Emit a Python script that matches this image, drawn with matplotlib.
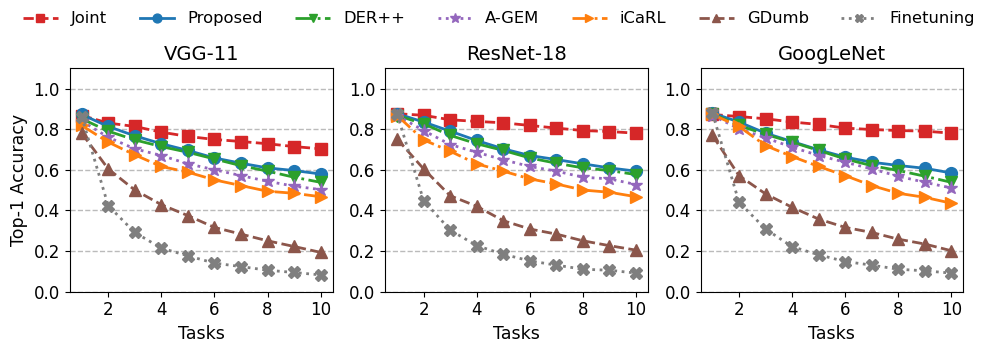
import numpy as np
import matplotlib

matplotlib.use("Agg")
import matplotlib.pyplot as plt

# ── Data ──────────────────────────────────────────────────────────────────────

TASKS = list(range(1, 11))
MODELS = ["VGG-11", "ResNet-18", "GoogLeNet"]
METHODS = ["Joint", "Proposed", "DER++", "A-GEM", "iCaRL", "GDumb", "Finetuning"]

vgg_joint = [0.867, 0.830, 0.813, 0.785, 0.764, 0.749, 0.739, 0.728, 0.714, 0.703]
vgg_proposed = [0.872, 0.813, 0.767, 0.728, 0.695, 0.658, 0.632, 0.609, 0.596, 0.579]
vgg_derpp = [0.851, 0.790, 0.747, 0.714, 0.686, 0.653, 0.620, 0.593, 0.563, 0.538]
vgg_agem = [0.840, 0.760, 0.703, 0.670, 0.629, 0.600, 0.571, 0.543, 0.519, 0.502]
vgg_icarl = [0.818, 0.736, 0.673, 0.616, 0.588, 0.550, 0.522, 0.494, 0.484, 0.467]
vgg_gdumb = [0.780, 0.604, 0.500, 0.428, 0.374, 0.316, 0.283, 0.250, 0.222, 0.193]
vgg_finetune = [0.862, 0.423, 0.291, 0.214, 0.176, 0.140, 0.123, 0.105, 0.094, 0.082]

res_joint = [0.876, 0.868, 0.846, 0.838, 0.831, 0.818, 0.805, 0.793, 0.788, 0.780]
res_proposed = [0.876, 0.835, 0.790, 0.744, 0.703, 0.670, 0.650, 0.629, 0.609, 0.593]
res_derpp = [0.867, 0.826, 0.769, 0.728, 0.695, 0.658, 0.632, 0.609, 0.596, 0.576]
res_agem = [0.867, 0.793, 0.724, 0.686, 0.649, 0.616, 0.593, 0.563, 0.555, 0.527]
res_icarl = [0.867, 0.747, 0.691, 0.629, 0.593, 0.555, 0.530, 0.500, 0.489, 0.467]
res_gdumb = [0.752, 0.604, 0.472, 0.420, 0.349, 0.308, 0.283, 0.250, 0.226, 0.204]
res_finetune = [0.876, 0.448, 0.303, 0.226, 0.184, 0.151, 0.130, 0.110, 0.105, 0.091]

goo_joint = [0.872, 0.862, 0.851, 0.835, 0.823, 0.805, 0.798, 0.793, 0.790, 0.780]
goo_proposed = [0.879, 0.835, 0.780, 0.739, 0.698, 0.662, 0.637, 0.621, 0.607, 0.584]
goo_derpp = [0.875, 0.818, 0.774, 0.736, 0.695, 0.653, 0.620, 0.596, 0.568, 0.538]
goo_agem = [0.867, 0.802, 0.757, 0.711, 0.670, 0.637, 0.604, 0.568, 0.538, 0.510]
goo_icarl = [0.872, 0.813, 0.719, 0.665, 0.616, 0.571, 0.522, 0.484, 0.464, 0.435]
goo_gdumb = [0.769, 0.571, 0.481, 0.415, 0.357, 0.316, 0.291, 0.258, 0.234, 0.201]
goo_finetune = [0.879, 0.440, 0.308, 0.221, 0.181, 0.148, 0.130, 0.110, 0.102, 0.091]

RESULTS = {
    "VGG-11": [vgg_joint, vgg_proposed, vgg_derpp, vgg_agem, vgg_icarl, vgg_gdumb, vgg_finetune],
    "ResNet-18": [res_joint, res_proposed, res_derpp, res_agem, res_icarl, res_gdumb, res_finetune],
    "GoogLeNet": [goo_joint, goo_proposed, goo_derpp, goo_agem, goo_icarl, goo_gdumb, goo_finetune],
}

# Style per method
STYLES = {
    "Joint": dict(color="#d62728", ls="--", marker="s"),
    "Proposed": dict(color="#1f77b4", ls="-", marker="o"),
    "DER++": dict(color="#2ca02c", ls="-.", marker="v"),
    "A-GEM": dict(color="#9467bd", ls=":", marker="*"),
    "iCaRL": dict(color="#ff7f0e", ls="-.", marker=">"),
    "GDumb": dict(color="#8c564b", ls="--", marker="^"),
    "Finetuning": dict(color="#7f7f7f", ls=":", marker="X"),
}

# ── Plot ──────────────────────────────────────────────────────────────────────

fig, axes = plt.subplots(1, 3, figsize=(9.82, 3.41), dpi=100)

for ax, model in zip(axes, MODELS):
    for method, vals in zip(METHODS, RESULTS[model]):
        st = STYLES[method]
        ax.plot(
            TASKS,
            vals,
            label=method,
            color=st["color"],
            ls=st["ls"],
            marker=st["marker"],
            ms=8.5 if method != "A-GEM" else 9.5,
            lw=2,
        )
    ax.set_title(model, fontsize=14)
    ax.set_xlabel("Tasks", fontsize=12.5)
    ax.set_ylim(0, 1.1)
    ax.set_xticks([2, 4, 6, 8, 10])
    ax.set_yticks(np.arange(0, 1.01, 0.2))
    ax.tick_params(axis="both", labelsize=12)
    ax.grid(True, axis="y", ls="--", color="#bbbbbb", lw=1)
    ax.set_axisbelow(True)

axes[0].set_ylabel("Top-1 Accuracy", fontsize=12.5)

handles, labels = axes[0].get_legend_handles_labels()
fig.legend(
    handles,
    labels,
    loc="upper center",
    ncol=7,
    frameon=False,
    fontsize=11.8,
    bbox_to_anchor=(0.508, 1.01),
    handlelength=2.1,
    handletextpad=0.8,
    columnspacing=2.0,
    markerscale=0.75,
)

plt.subplots_adjust(left=0.071, right=0.981, top=0.8, bottom=0.145, wspace=0.2)
fig.savefig("out.png", dpi=100)
plt.close(fig)
